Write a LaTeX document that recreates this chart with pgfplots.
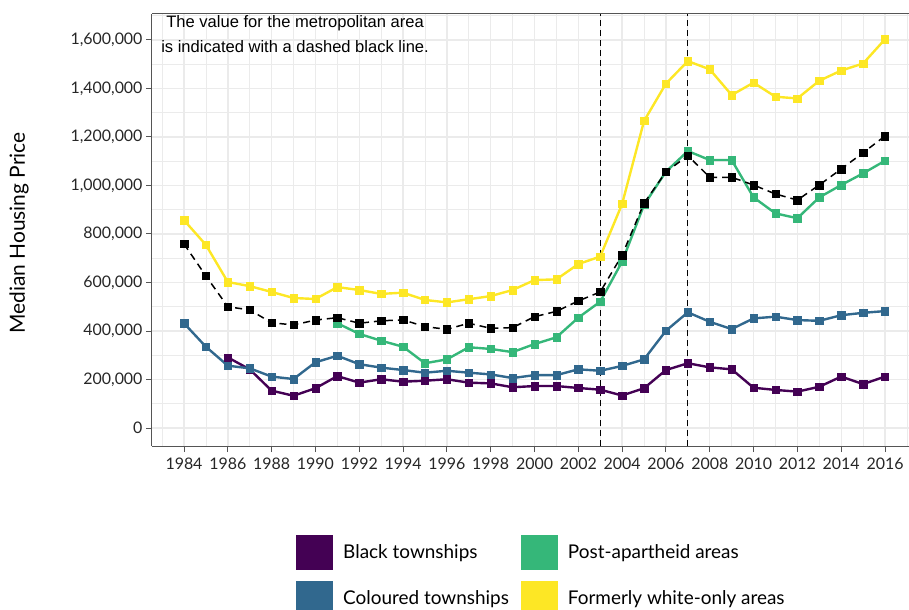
\documentclass[border=0pt]{standalone}
\usepackage{fontspec}
\setmainfont{Lato}
\newfontfamily\arialfont{Liberation Sans}
\usepackage{pgfplots}
\pgfplotsset{compat=1.18}
\definecolor{cPurple}{HTML}{440154}
\definecolor{cBlue}{HTML}{31688E}
\definecolor{cGreen}{HTML}{35B779}
\definecolor{cYellow}{HTML}{FDE725}
\definecolor{gridc}{HTML}{EBEBEB}
\definecolor{axc}{HTML}{555555}
\pgfplotsset{ser/.style={forget plot, line width=2.4bp, mark=square*, mark size=3.7bp, mark options={solid, line width=0.4bp}}}
\begin{document}
\begin{tikzpicture}
\path[use as bounding box] (-152bp,-164bp) rectangle (757bp,446bp);
\begin{axis}[
  at={(0,0)}, anchor=south west, scale only axis,
  width=757bp, height=432bp,
  xmin=1982.539, xmax=2017.096, ymin=-74227, ymax=1707212,
  axis x line*=bottom, axis y line*=left,
  axis line style={axc, line width=1bp},
  xtick={1984,1986,...,2016}, minor xtick={1983,1985,...,2017},
  ytick={0,200000,...,1600000}, minor ytick={100000,300000,...,1700000},
  grid=both,
  major grid style={gridc, line width=1.4bp},
  minor grid style={gridc, line width=0.8bp},
  tick align=outside, major tick length=6bp, minor tick length=0pt,
  tick style={axc, line width=1bp},
  scaled y ticks=false,
  /pgf/number format/assume math mode=true,
  x tick label style={/pgf/number format/1000 sep={}, font=\fontsize{16}{16}\selectfont, text=black!85, yshift=-2bp},
  y tick label style={/pgf/number format/fixed, /pgf/number format/1000 sep={,}, font=\fontsize{16}{16}\selectfont, text=black!85},
  ylabel={Median Housing Price},
  ylabel style={at={(axis description cs:-0.1757,0.493)}, anchor=center, font=\fontsize{21}{21}\selectfont},
  legend columns=2,
  legend cell align=left,
  legend style={at={(axis description cs:0.1744,-0.2060)}, anchor=north west, draw=none, fill=none,
    inner sep=0pt, row sep=11bp, font=\fontsize{19}{19}\selectfont, nodes={inner sep=0pt}},
  clip=true,
]
% vertical reference lines
\addplot[forget plot, black, line width=1.3bp, dash pattern=on 6bp off 4bp] coordinates {(2003,-74227) (2003,1707212)};
\addplot[forget plot, black, line width=1.3bp, dash pattern=on 6bp off 4bp] coordinates {(2007,-74227) (2007,1707212)};

% Black townships
\addplot[ser, cPurple] coordinates {
(1986,291000) (1987,242000) (1988,154000) (1989,133000) (1990,164000) (1991,214000) (1992,187000) (1993,201000)
(1994,191000) (1995,195000) (1996,201000) (1997,187000) (1998,184000) (1999,168000) (2000,173000) (2001,173000)
(2002,165000) (2003,158000) (2004,134000) (2005,164000) (2006,239000) (2007,267000) (2008,250000) (2009,242000)
(2010,166000) (2011,157000) (2012,150000) (2013,170000) (2014,212000) (2015,181000) (2016,212000)};

% Coloured townships
\addplot[ser, cBlue] coordinates {
(1984,432000) (1985,335000) (1986,257000) (1987,246000) (1988,212000) (1989,202000) (1990,271000) (1991,298000)
(1992,263000) (1993,249000) (1994,239000) (1995,228000) (1996,236000) (1997,228000) (1998,221000) (1999,206000)
(2000,218000) (2001,218000) (2002,242000) (2003,236000) (2004,256000) (2005,283000) (2006,401000) (2007,477000)
(2008,438000) (2009,408000) (2010,452000) (2011,459000) (2012,445000) (2013,442000) (2014,465000) (2015,475000) (2016,482000)};

% Post-apartheid areas
\addplot[ser, cGreen] coordinates {
(1991,432000) (1992,388000) (1993,360000) (1994,335000) (1995,267000) (1996,283000) (1997,333000) (1998,326000)
(1999,313000) (2000,346000) (2001,374000) (2002,455000) (2003,521000) (2004,686000) (2005,920000) (2006,1057000)
(2007,1142000) (2008,1105000) (2009,1105000) (2010,951000) (2011,885000) (2012,865000) (2013,951000) (2014,1002000)
(2015,1050000) (2016,1102000)};

% Formerly white-only areas
\addplot[ser, cYellow] coordinates {
(1984,857000) (1985,755000) (1986,602000) (1987,585000) (1988,561000) (1989,536000) (1990,532000) (1991,581000)
(1992,569000) (1993,553000) (1994,558000) (1995,528000) (1996,518000) (1997,531000) (1998,544000) (1999,569000)
(2000,610000) (2001,613000) (2002,676000) (2003,707000) (2004,924000) (2005,1266000) (2006,1420000) (2007,1513000)
(2008,1479000) (2009,1373000) (2010,1424000) (2011,1366000) (2012,1359000) (2013,1432000) (2014,1474000) (2015,1503000) (2016,1603000)};

% Metropolitan area
\addplot[ser, black, line width=1.5bp, dash pattern=on 7bp off 5bp] coordinates {
(1984,759000) (1985,627000) (1986,500000) (1987,487000) (1988,434000) (1989,425000) (1990,445000) (1991,455000)
(1992,432000) (1993,442000) (1994,446000) (1995,418000) (1996,407000) (1997,432000) (1998,411000) (1999,414000)
(2000,459000) (2001,481000) (2002,524000) (2003,561000) (2004,713000) (2005,927000) (2006,1056000) (2007,1123000)
(2008,1034000) (2009,1034000) (2010,1002000) (2011,965000) (2012,940000) (2013,1002000) (2014,1068000) (2015,1135000) (2016,1204000)};

\draw[axc, line width=1bp] (rel axis cs:0,1) -- (rel axis cs:1,1);

\node[font=\arialfont\fontsize{16.6}{25}\selectfont, align=center, text=black] at (axis cs:1989.07,1624000)
  {The value for the metropolitan area\\is indicated with a dashed black line.};

\addlegendimage{legend image code/.code={\path[draw=none, fill=none] (-12bp,0)--(47bp,0); \fill[cPurple] (0bp,-17bp) rectangle (36bp,17bp);}}
\addlegendentry{Black townships}
\addlegendimage{legend image code/.code={\path[draw=none, fill=none] (-12bp,0)--(47bp,0); \fill[cGreen] (0bp,-17bp) rectangle (36bp,17bp);}}
\addlegendentry{Post-apartheid areas}
\addlegendimage{legend image code/.code={\path[draw=none, fill=none] (-12bp,0)--(47bp,0); \fill[cBlue] (0bp,-17bp) rectangle (36bp,17bp);}}
\addlegendentry{Coloured townships}
\addlegendimage{legend image code/.code={\path[draw=none, fill=none] (-12bp,0)--(47bp,0); \fill[cYellow] (0bp,-17bp) rectangle (36bp,17bp);}}
\addlegendentry{Formerly white-only areas}
\end{axis}
\end{tikzpicture}
\end{document}
